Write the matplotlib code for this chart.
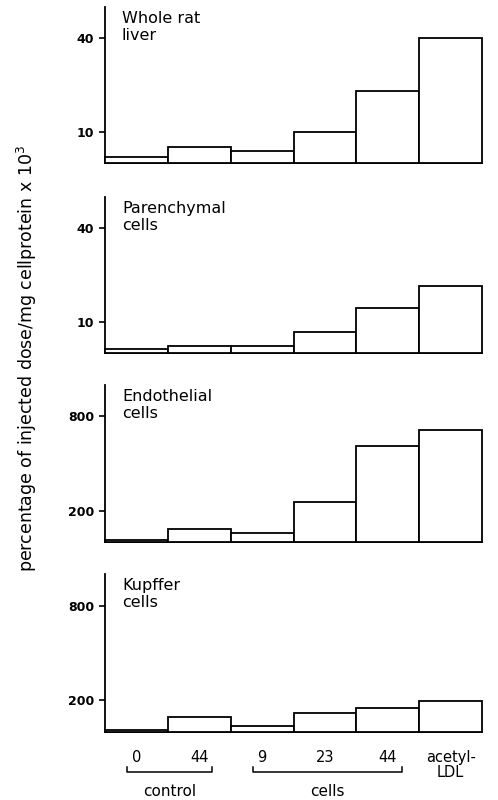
import numpy as np
import matplotlib
matplotlib.use("Agg")
import matplotlib.pyplot as plt
from matplotlib.transforms import blended_transform_factory

# values (percentage of dose / mg cellprotein x 10^3)
groups = ["0", "44", "9", "23", "44", "acetyl-\nLDL"]
whole_liver = [2.0, 5.0, 3.7, 10.0, 23.2, 40.0]
parenchymal = [1.2, 2.1, 2.1, 6.8, 14.3, 21.5]
endothelial = [15, 82, 57, 257, 610, 711]
kupffer = [14, 97, 35, 118, 153, 196]

panels = [
    ("Whole rat\nliver", whole_liver, [10, 40], 50),
    ("Parenchymal\ncells", parenchymal, [10, 40], 50),
    ("Endothelial\ncells", endothelial, [200, 800], 1000),
    ("Kupffer\ncells", kupffer, [200, 800], 1000),
]

W, H = 498, 800
fig = plt.figure(figsize=(W / 100, H / 100), dpi=100)

# axes rects in pixels: (left, top, right, bottom)
rects = [(105, 7, 482, 163), (105, 197, 482, 353), (105, 385, 482, 542), (105, 574, 482, 732)]

x = np.arange(len(groups))
axes = []
for (label, vals, ticks, ymax), (l, t, r, b) in zip(panels, rects):
    ax = fig.add_axes([l / W, 1 - b / H, (r - l) / W, (b - t) / H])
    ax.bar(x, vals, width=1.0, align="edge", color="white",
           edgecolor="black", linewidth=1.3, clip_on=False, zorder=3)
    ax.set_xlim(0, len(groups))
    ax.set_ylim(0, ymax)
    ax.set_yticks(ticks)
    ax.set_yticklabels([str(t) for t in ticks], fontsize=9, fontweight="bold")
    ax.tick_params(axis="y", direction="out", length=4, width=1.2, pad=4)
    ax.set_xticks([])
    for s in ["top", "right"]:
        ax.spines[s].set_visible(False)
    ax.spines["left"].set_linewidth(1.3)
    ax.spines["bottom"].set_linewidth(1.3)
    ax.text(0.045, 0.975, label, transform=ax.transAxes, va="top", ha="left",
            fontsize=11.5, linespacing=1.2)
    axes.append(ax)

# bottom panel: category labels and group brackets
ax = axes[-1]
ax.set_xticks(x + 0.5)
ax.set_xticklabels(groups, fontsize=10.5, linespacing=1.0)
ax.tick_params(axis="x", length=0, pad=13)

trans = blended_transform_factory(ax.transData, ax.transAxes)
brackets = [("control", 0.35, 1.70), ("cells", 2.35, 4.73)]
for name, x0, x1 in brackets:
    ax.plot([x0, x0, x1, x1], [-0.22, -0.253, -0.253, -0.22], color="black",
            lw=1.1, transform=trans, clip_on=False)
    ax.text((x0 + x1) / 2, -0.375, name, transform=trans, ha="center",
            va="center", fontsize=11)

fig.text(0.054, 1 - 358 / H, "percentage of injected dose/mg cellprotein x 10$^3$",
         rotation=90, ha="center", va="center", fontsize=12.5)

fig.savefig("out.png", dpi=100, facecolor="white")
